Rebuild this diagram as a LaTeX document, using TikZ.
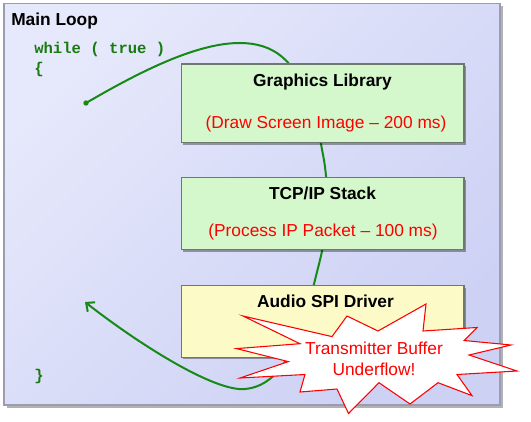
\documentclass[tikz,border=0pt]{standalone}
\usepackage{fontspec}
\setmainfont{Liberation Sans}
\setmonofont{Liberation Mono}
\usepackage{tikz}
\usepackage{xcolor}
\usetikzlibrary{shadows,arrows.meta}
\definecolor{frametop}{HTML}{E6E8FB}
\definecolor{framebot}{HTML}{CDD1F4}
\definecolor{frameedge}{HTML}{9C9CB0}
\definecolor{boxedge}{HTML}{6E786E}
\definecolor{taskgreen}{HTML}{D5F7CC}
\definecolor{taskyellow}{HTML}{FCFAC7}
\definecolor{codegreen}{HTML}{1A7A12}
\definecolor{loopgreen}{HTML}{168A16}

\begin{document}
\begin{tikzpicture}[x=0.75pt,y=-0.75pt]
				\useasboundingbox (0,0) rectangle (531,421);
				\begin{scope}[font=\fontsize{13}{15}\selectfont,
						taskbox/.style={draw=boxedge,line width=0.8pt,minimum width=212.2pt,
								drop shadow={shadow xshift=1.6pt,shadow yshift=-1.6pt,fill=black,opacity=0.35}},
						tasktitle/.style={anchor=base,font=\fontsize{13}{15}\selectfont\bfseries},
						tasktime/.style={anchor=base,text=red},
						code/.style={anchor=west,inner sep=0pt,text=codegreen,
								font=\fontsize{11.7}{14}\selectfont\ttfamily\bfseries},
						loopline/.style={draw=loopgreen,line width=1.5pt},
						burst/.style={fill=white,draw=red,line width=0.8pt,line join=miter},
						>={Straight Barb[length=5pt,width=9pt]}]

					% the main loop frame
					\draw [draw=frameedge,line width=0.8pt,top color=frametop,bottom color=framebot,shading angle=45,
						drop shadow={shadow xshift=2pt,shadow yshift=-2pt,fill=black,opacity=0.3}]
						(4,3.3) rectangle (500,405);
					\node [anchor=base west,inner sep=0pt,font=\fontsize{13}{15}\selectfont\bfseries] (mainlabel) at (11,25.3) {Main Loop};

					\node [code] (whileline) at (34,49.5) {while ( true )};
					\node [code] (openbrace) at (34,69) {\{};
					\node [code] (closebrace) at (34,376) {\}};

					% one pass of the loop, behind the tasks
					\coordinate (loopstart) at (86,103);
					\coordinate (loopend) at (85,302);
					\fill [loopgreen] (loopstart) circle [radius=2pt];
					\draw [loopline,->] (loopstart) .. controls (160,60) and (250,15) .. (290,65)
						.. controls (315,95) and (318,130) .. (324,160)
						.. controls (330,200) and (328,230) .. (318,268)
						.. controls (305,320) and (290,385) .. (245,389)
						.. controls (215,392) and (140,345) .. (loopend);

					% tasks
					\node [taskbox,fill=taskgreen,minimum height=59pt] (gfx) at (322.5,103.3) {};
					\node [tasktitle] (gfxname) at (322.5,86) {Graphics Library};
					\node [tasktime] (gfxtime) at (326,128.3) {(Draw Screen Image – 200 ms)};

					\node [taskbox,fill=taskgreen,minimum height=54.2pt] (tcp) at (322.5,213.8) {};
					\node [tasktitle] (tcpname) at (322.5,199.3) {TCP/IP Stack};
					\node [tasktime] (tcptime) at (323,236) {(Process IP Packet – 100 ms)};

					\node [taskbox,fill=taskyellow,minimum height=53.7pt] (audio) at (322.5,321.5) {};
					\node [tasktitle] (audioname) at (325.5,307.3) {Audio SPI Driver};

					% underflow burst
					\draw [burst] (243,316) -- (332,336.6) -- (347,316) -- (378,331) -- (426,304)
						-- (423,331) -- (477,327.5) -- (464,340.5) -- (511,345) -- (469,355)
						-- (517,371) -- (457,374.5) -- (472,395.6) -- (438,382.7) -- (410,404)
						-- (379,382.7) -- (348.5,413.5) -- (337,389) -- (300,392) -- (305,374.5)
						-- (240,378) -- (288.4,361.6) -- (236.5,348.6) -- (300,343.7) -- cycle;
					\node [tasktime] (alarmtop) at (374,354) {Transmitter Buffer};
					\node [tasktime] (alarmbottom) at (374,375) {Underflow!};
				\end{scope}
			\end{tikzpicture}
\end{document}
